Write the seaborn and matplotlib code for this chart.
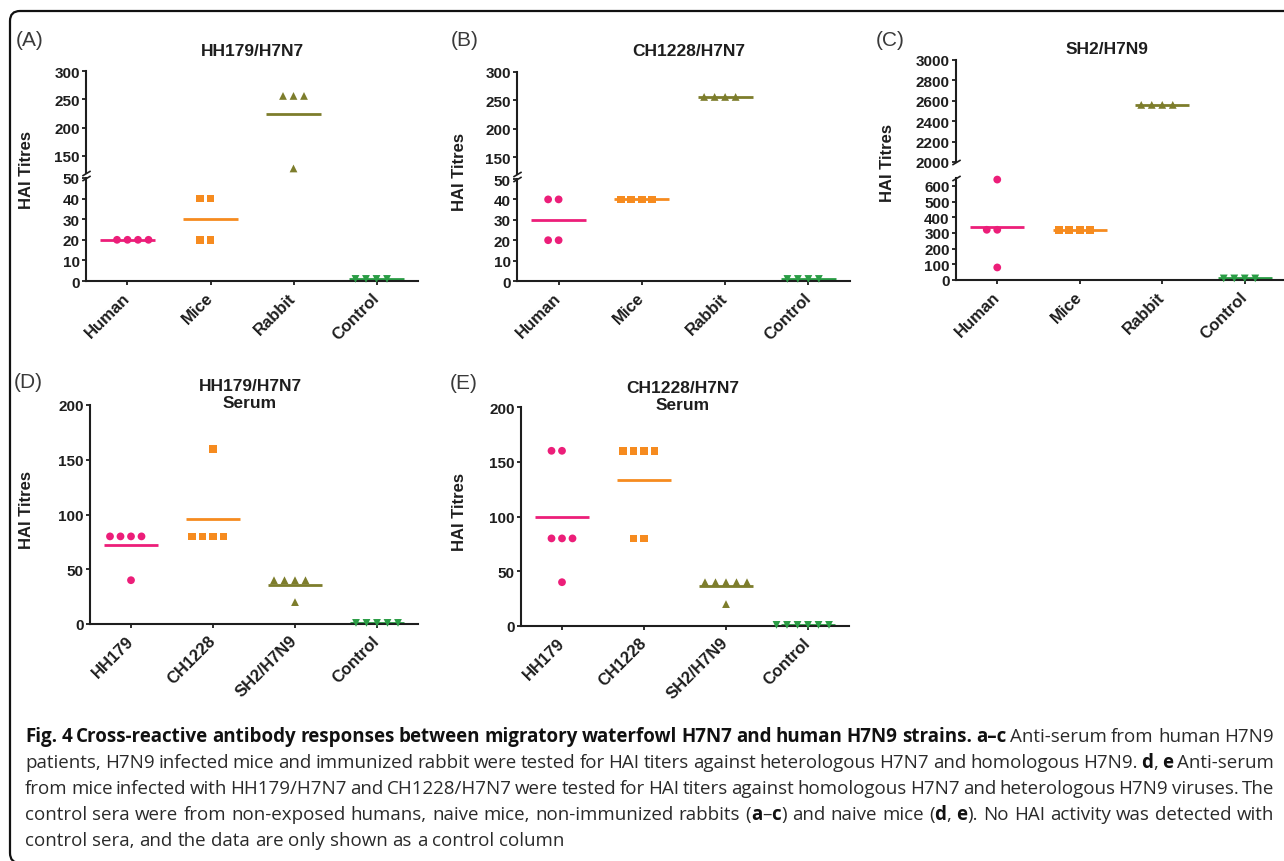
import numpy as np
import seaborn as sns
import matplotlib.pyplot as plt
from matplotlib.patches import FancyBboxPatch
from matplotlib.transforms import IdentityTransform

W, H = 1284, 862

groups_abc = ["Human", "Mice", "Rabbit", "Control"]
groups_de = ["HH179", "CH1228", "SH2/H7N9", "Control"]

# (A) HH179/H7N7
a_human = [20, 20, 20, 20]
a_mice = [40, 40, 20, 20]
a_rabbit = [256, 256, 256, 128]
a_control = [1, 1, 1, 1]
# (B) CH1228/H7N7
b_human = [40, 40, 20, 20]
b_mice = [40, 40, 40, 40]
b_rabbit = [256, 256, 256, 256]
b_control = [1, 1, 1, 1]
# (C) SH2/H7N9
c_human = [640, 320, 320, 80]
c_mice = [320, 320, 320, 320]
c_rabbit = [2560, 2560, 2560, 2560]
c_control = [10, 10, 10, 10]
# (D) HH179/H7N7 serum
d_hh179 = [80, 80, 80, 80, 40]
d_ch1228 = [160, 80, 80, 80, 80]
d_sh2 = [40, 40, 40, 40, 20]
d_control = [1, 1, 1, 1, 1]
# (E) CH1228/H7N7 serum
e_hh179 = [160, 160, 80, 80, 80, 40]
e_ch1228 = [160, 160, 160, 160, 80, 80]
e_sh2 = [40, 40, 40, 40, 40, 20]
e_control = [1, 1, 1, 1, 1, 1]

colors = ["#ec1e79", "#f68b1f", "#7d7d2c", "#2a9d45"]
markers = ["o", "s", "^", "v"]
ink = "#1e1e1e"

sns.set_style("ticks")
plt.rcParams["font.family"] = ["Liberation Sans", "DejaVu Sans"]

fig = plt.figure(figsize=(W / 100, H / 100), dpi=100)


def px_box(l, t, r, b):
    return [l / W, 1 - b / H, (r - l) / W, (b - t) / H]


def draw_groups(ax, cats, series, lo, hi):
    for i, (cat, vals) in enumerate(zip(cats, series)):
        inside = [v for v in vals if lo <= v <= hi]
        if inside:
            sns.swarmplot(x=[cat] * len(inside), y=inside, order=cats,
                          color=colors[i], marker=markers[i], size=5.6,
                          edgecolor="none", linewidth=1.6, clip_on=False,
                          zorder=3, ax=ax)
        m = np.mean(vals)
        if lo <= m <= hi:
            ax.hlines(m, i - 0.33, i + 0.33, color=colors[i], lw=2, zorder=2)
    # seaborn leaves empty collections for the other categories
    for c in list(ax.collections):
        if len(c.get_offsets()) == 0:
            c.remove()


def style_axes(ax, ylim, yticks, cats=None):
    ax.set_xlim(-0.5, 3.5)
    ax.set_ylim(*ylim)
    ax.set_yticks(yticks)
    ax.set_yticklabels([str(t) for t in yticks], fontsize=11, fontweight="bold", color=ink)
    ax.set_xlabel("")
    ax.set_ylabel("")
    for s in ["top", "right"]:
        ax.spines[s].set_visible(False)
    for s in ["left", "bottom"]:
        ax.spines[s].set_linewidth(1.5)
        ax.spines[s].set_color(ink)
    ax.tick_params(axis="y", length=3, width=1.3, pad=1.5, colors=ink)
    if cats is None:
        ax.spines["bottom"].set_visible(False)
        ax.tick_params(axis="x", bottom=False, labelbottom=False)
    else:
        ax.set_xticks(range(len(cats)))
        ax.set_xticklabels(cats, rotation=45, ha="right", va="center",
                           rotation_mode="anchor", fontsize=12, fontweight="bold", color=ink)
        ax.tick_params(axis="x", length=3, width=1.3, pad=7, colors=ink)
    ax.patch.set_alpha(0)


def break_mark(ax, y):
    ax.plot([0], [y], marker=[(-1, -0.6), (1, 0.6)], markersize=6, mew=1.2,
            color=ink, transform=ax.transAxes, clip_on=False)


broken_panels = [
    # series, lower box, upper box, lower lim/ticks, upper lim/ticks
    ([a_human, a_mice, a_rabbit, a_control], (86, 179, 418, 282), (86, 72, 418, 174),
     (0, 50), [0, 10, 20, 30, 40, 50], (120, 300), [150, 200, 250, 300]),
    ([b_human, b_mice, b_rabbit, b_control], (517, 180, 850, 282), (517, 73, 850, 175),
     (0, 50), [0, 10, 20, 30, 40, 50], (120, 300), [150, 200, 250, 300]),
    ([c_human, c_mice, c_rabbit, c_control], (956, 179, 1286, 281), (956, 61, 1286, 163),
     (0, 650), [0, 100, 200, 300, 400, 500, 600], (2000, 3000),
     [2000, 2200, 2400, 2600, 2800, 3000]),
]

for series, lbox, ubox, llim, lticks, ulim, uticks in broken_panels:
    ax_lo = fig.add_axes(px_box(*lbox))
    ax_hi = fig.add_axes(px_box(*ubox))
    draw_groups(ax_lo, groups_abc, series, *llim)
    draw_groups(ax_hi, groups_abc, series, *ulim)
    style_axes(ax_lo, llim, lticks, groups_abc)
    style_axes(ax_hi, ulim, uticks)
    break_mark(ax_lo, 1)
    break_mark(ax_hi, 0)

single_panels = [
    ([d_hh179, d_ch1228, d_sh2, d_control], (90, 406, 418, 625)),
    ([e_hh179, e_ch1228, e_sh2, e_control], (521, 408, 849, 627)),
]
for series, box in single_panels:
    ax = fig.add_axes(px_box(*box))
    draw_groups(ax, groups_de, series, 0, 200)
    style_axes(ax, (0, 200), [0, 50, 100, 150, 200], groups_de)


def ftext(x, y, s, **kw):
    fig.text(x / W, 1 - y / H, s, **kw)


titles = [("HH179/H7N7", 252, 52), ("CH1228/H7N7", 689, 52), ("SH2/H7N9", 1107, 49),
          ("HH179/H7N7\nSerum", 250, 395), ("CH1228/H7N7\nSerum", 683, 397)]
for s, x, y in titles:
    ftext(x, y, s, ha="center", va="center", fontsize=12.5, fontweight="bold",
          color=ink, linespacing=1.12)

ylabels = [(27, 170), (460, 172), (888, 163), (27, 510), (460, 512)]
for x, y in ylabels:
    ftext(x, y, "HAI Titres", ha="center", va="center", rotation=90, fontsize=12,
          fontweight="bold", color=ink)

panel_tags = [("(A)", 16, 40), ("(B)", 451, 40), ("(C)", 876, 41), ("(D)", 14, 383), ("(E)", 450, 384)]
for s, x, y in panel_tags:
    ftext(x, y, s, ha="left", va="center", fontsize=15, color="#3a3a3a")

# frame
frame = FancyBboxPatch((10, -2), 1300, H - 12 + 2, boxstyle="round,pad=0,rounding_size=10",
                       fill=False, lw=1.6, edgecolor="#111111", transform=IdentityTransform())
fig.add_artist(frame)

# caption
cap_font = ["Open Sans", "DejaVu Sans"]
cap_lines = [
    [("Fig. 4 Cross-reactive antibody responses between migratory waterfowl H7N7 and human H7N9 strains. a\u2013c", True),
     (" Anti-serum from human H7N9", False)],
    [("patients, H7N9 infected mice and immunized rabbit were tested for HAI titers against heterologous H7N7 and homologous H7N9. ", False),
     ("d", True), (", ", False), ("e", True), (" Anti-serum", False)],
    [("from mice infected with HH179/H7N7 and CH1228/H7N7 were tested for HAI titers against homologous H7N7 and heterologous H7N9 viruses. The", False)],
    [("control sera were from non-exposed humans, naive mice, non-immunized rabbits (", False), ("a", True),
     ("\u2013", False), ("c", True), (") and naive mice (", False), ("d", True), (", ", False), ("e", True),
     ("). No HAI activity was detected with", False)],
    [("control sera, and the data are only shown as a control column", False)],
]
cap_base = [742, 768, 794, 820, 846]
cap_x0, cap_x1 = 25, 1274

renderer = fig.canvas.get_renderer()


def text_width(s, bold, size):
    t = fig.text(0, 0, s, fontsize=size, fontweight="bold" if bold else "normal", family=cap_font)
    w = t.get_window_extent(renderer).width
    t.remove()
    return w


def split_words(runs):
    words = [[]]
    for text, bold in runs:
        parts = text.split(" ")
        for k, part in enumerate(parts):
            if k > 0:
                words.append([])
            if part:
                words[-1].append((part, bold))
    return [w for w in words if w]


def natural_width(runs, size):
    words = split_words(runs)
    space = text_width("a a", False, size) - text_width("aa", False, size)
    return sum(text_width(p, b, size) for w in words for p, b in w) + space * (len(words) - 1)


cap_size = 12 * 538 / natural_width(cap_lines[-1], 12)
space_w = text_width("a a", False, cap_size) - text_width("aa", False, cap_size)

for li, (runs, yb) in enumerate(zip(cap_lines, cap_base)):
    words = split_words(runs)
    widths = [[text_width(p, b, cap_size) for p, b in w] for w in words]
    total = sum(sum(w) for w in widths)
    justify = li < len(cap_lines) - 1
    gap = (cap_x1 - cap_x0 - total) / (len(words) - 1) if justify else space_w
    x = cap_x0
    for w, ws in zip(words, widths):
        for (p, b), pw in zip(w, ws):
            ftext(x, yb, p, ha="left", va="baseline", fontsize=cap_size, family=cap_font,
                  fontweight="bold" if b else "normal", color="#111111" if b else "#2a2a2a")
            x += pw
        x += gap

fig.savefig("out.png", dpi=100)
